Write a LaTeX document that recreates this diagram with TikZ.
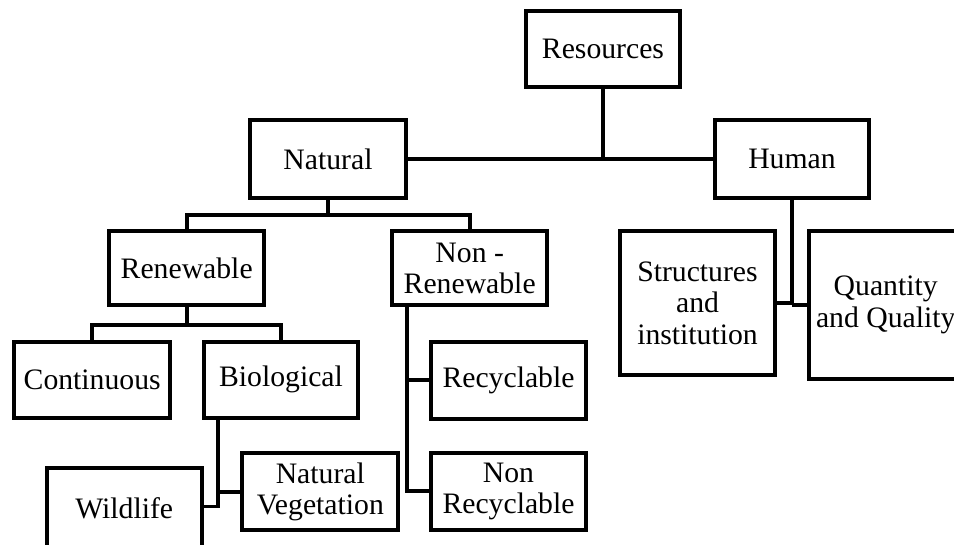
\documentclass[tikz,border=0pt]{standalone}
\usepackage{fontspec}
\setmainfont{Liberation Serif}
\usetikzlibrary{calc}
\begin{document}
\begin{tikzpicture}[x=1pt,y=-1pt,
  box/.style={draw=black, line width=3.8pt, inner sep=0pt, align=center,
    font=\fontsize{29.7}{31.5}\selectfont, text=black},
  conn/.style={draw=black, line width=3.8pt}]
\useasboundingbox (0,0) rectangle (954,544);
\node[box, minimum width=154.3pt, minimum height=75.7pt] (res) at (603,48.8) {Resources};
\node[box, minimum width=155.4pt, minimum height=77.4pt] (nat) at (328,159) {Natural};
\node[box, minimum width=154.6pt, minimum height=77.4pt] (hum) at (792,159) {Human};
\node[box, minimum width=155.3pt, minimum height=74.3pt] (ren) at (186.7,268.2) {Renewable};
\node[box, minimum width=154.7pt, minimum height=74.3pt] (nonren) at (469.7,268.2) {Non -\\Renewable};
\node[box, minimum width=155.7pt, minimum height=75.7pt] (cont) at (92.2,379.8) {Continuous};
\node[box, minimum width=154.6pt, minimum height=75.7pt] (bio) at (281,379.8) {Biological};
\node[box, minimum width=155pt, minimum height=76.7pt] (rec) at (508.5,380.3) {Recyclable};
\node[box, minimum width=155pt, minimum height=76.7pt] (nonrec) at (508.5,491.3) {Non\\Recyclable};
\node[box, minimum width=156pt, minimum height=77.3pt] (nv) at (320.3,491.7) {Natural\\Vegetation};
\node[box, minimum width=155pt, minimum height=82pt] (wild) at (124.2,508.7) {Wildlife};
\node[box, minimum width=154.4pt, minimum height=144.3pt] (str) at (697.5,303.2) {Structures\\and\\institution};
\node[box, minimum width=154pt, minimum height=147.7pt] (qq) at (885.7,304.8) {Quantity\\and Quality};
% connectors
\coordinate (j0) at (603,159);
\draw[conn] (res.south) -- (j0);
\draw[conn] (nat.east) -- (hum.west);
\coordinate (natbar) at (328,215);
\draw[conn] (nat.south) -- (natbar);
\draw[conn] (ren.north) |- (natbar) -| (nonren.north);
\coordinate (renbar) at (186.7,324.7);
\draw[conn] (ren.south) -- (renbar);
\draw[conn] (cont.north) |- (renbar) -| (bio.north);
\coordinate (b1) at (218.3,417.7);
\coordinate (b2) at (218.3,506.5);
\draw[conn] (bio.south -| b1) -- (b2) -- (b2 -| wild.east);
\draw[conn] (nv.west) -- (nv.west -| b1);
\coordinate (n1) at (407.3,305.3);
\draw[conn] (nonren.south -| n1) |- (nonrec.west);
\draw[conn] (rec.west) -- (rec.west -| n1);
\draw[conn] (hum.south) -- (hum.south |- qq.west);
\draw[conn] (str.east) -- (str.east -| hum.south);
\draw[conn] (qq.west) -- (qq.west -| hum.south);
\end{tikzpicture}
\end{document}
